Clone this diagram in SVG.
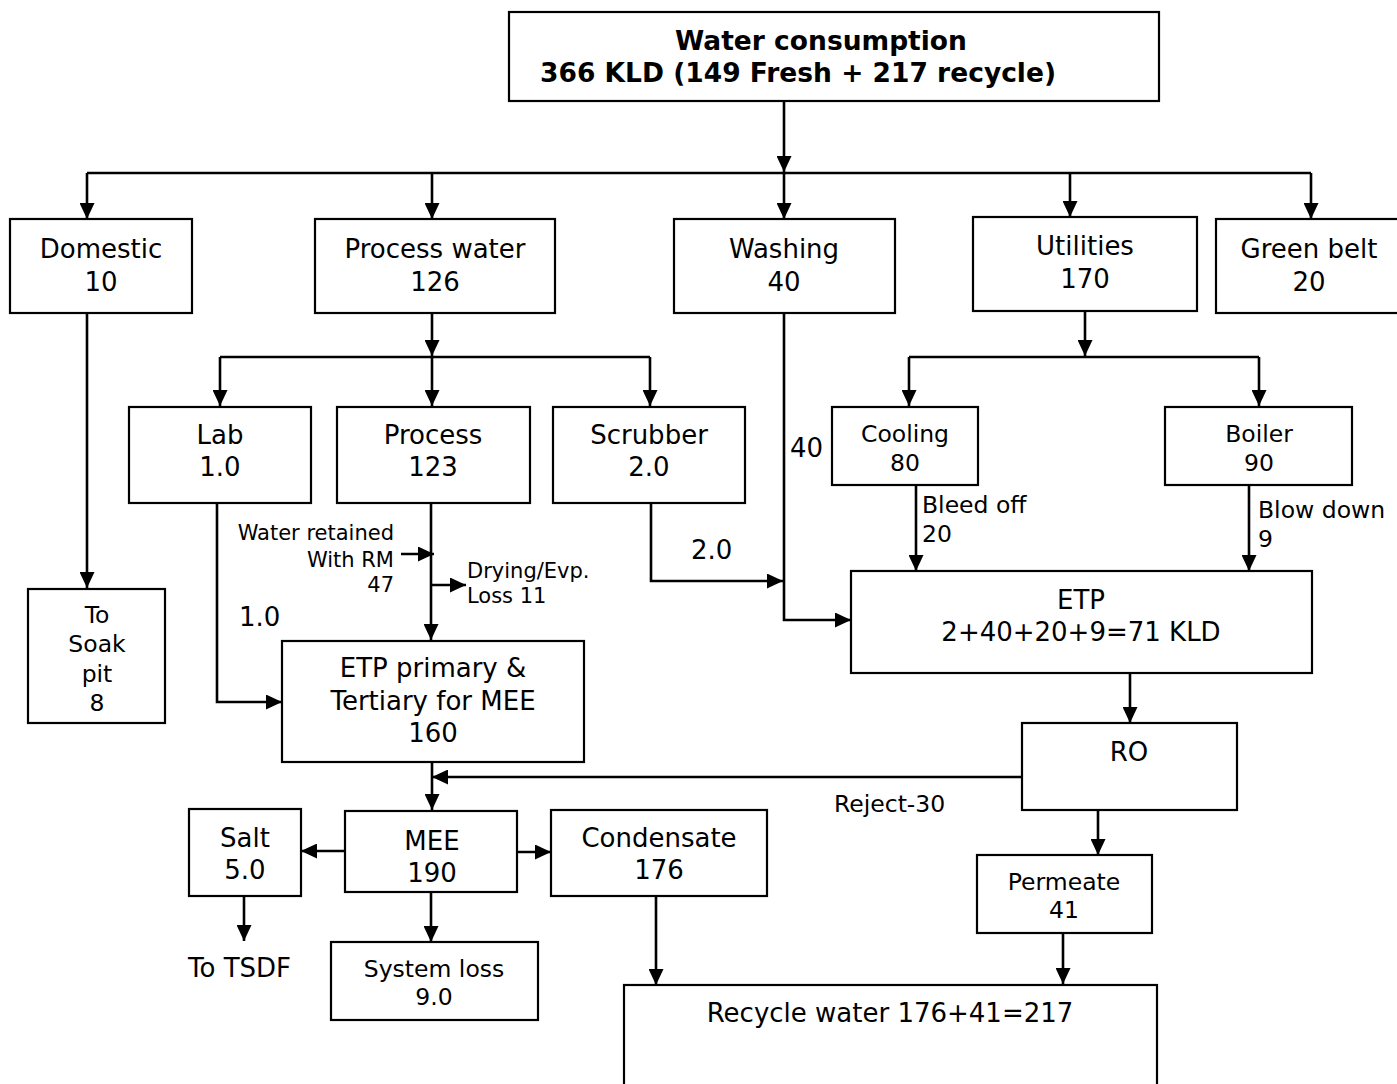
<svg xmlns="http://www.w3.org/2000/svg" width="1397" height="1084" viewBox="0 0 1397 1084">
  <style>
    .box { fill: #fff; stroke: #000; stroke-width: 2.2; }
    .t { font-family: "DejaVu Sans", Verdana, sans-serif; font-size: 26px; fill: #000; text-anchor: middle; }
    .s { font-size: 23.5px; }
    .xs { font-size: 21px; }
    .b { font-weight: bold; font-size: 26.5px; text-anchor: start; }
    .l { text-anchor: start; }
    .r { text-anchor: end; }
    .c { fill: none; stroke: #000; stroke-width: 2.6; }
    .a { marker-end: url(#arr); }
  </style>
  <defs>
    <marker id="arr" viewBox="0 0 16 15" refX="16" refY="7.5" markerWidth="16" markerHeight="15" markerUnits="userSpaceOnUse" orient="auto">
      <path d="M0,0 L16,7.5 L0,15 z" fill="#000"/>
    </marker>
  </defs>
  <rect width="1397" height="1084" fill="#fff"/>

  <!-- flow lines -->
  <g id="connectors">
    <path class="c a" d="M784,101 V172"/>
    <path class="c" d="M87,173 H1311"/>
    <path class="c a" d="M87,173 V219"/>
    <path class="c a" d="M432,173 V219"/>
    <path class="c a" d="M784,173 V219"/>
    <path class="c a" d="M1070,173 V217"/>
    <path class="c a" d="M1311,173 V219"/>

    <path class="c a" d="M87,313 V588"/>

    <path class="c a" d="M432,313 V356"/>
    <path class="c" d="M220,357 H650"/>
    <path class="c a" d="M220,357 V406"/>
    <path class="c a" d="M432,357 V406"/>
    <path class="c a" d="M650,357 V406"/>

    <path class="c a" d="M217,503 V702 H282"/>
    <path class="c a" d="M431,503 V640"/>
    <path class="c a" d="M401,554 H434"/>
    <path class="c a" d="M431,585 H466"/>
    <path class="c a" d="M651,503 V581 H783"/>
    <path class="c a" d="M784,313 V620 H851"/>

    <path class="c a" d="M1085,311 V356"/>
    <path class="c" d="M909,357 H1259"/>
    <path class="c a" d="M909,357 V406"/>
    <path class="c a" d="M1259,357 V406"/>
    <path class="c a" d="M916,485 V571"/>
    <path class="c a" d="M1249,485 V571"/>

    <path class="c a" d="M1130,673 V723"/>
    <path class="c a" d="M1022,777 H432"/>
    <path class="c a" d="M1098,810 V855"/>
    <path class="c a" d="M1063,933 V984"/>

    <path class="c a" d="M432,762 V810"/>
    <path class="c a" d="M345,851 H301"/>
    <path class="c a" d="M517,852 H551"/>
    <path class="c a" d="M244,896 V941"/>
    <path class="c a" d="M431,892 V942"/>
    <path class="c a" d="M656,897 V985"/>
  </g>

  <!-- flow labels -->
  <g id="flow-labels">
    <text class="t xs r" x="394" y="540">Water retained</text>
    <text class="t xs r" x="394" y="567">With RM</text>
    <text class="t xs r" x="394" y="592">47</text>
    <text class="t xs l" x="467" y="578">Drying/Evp.</text>
    <text class="t xs l" x="467" y="603">Loss 11</text>
    <text class="t l" x="239" y="626">1.0</text>
    <text class="t l" x="691" y="559">2.0</text>
    <text class="t l" x="790" y="457">40</text>
    <text class="t s l" x="922" y="513">Bleed off</text>
    <text class="t s l" x="922" y="542">20</text>
    <text class="t s l" x="1258" y="518">Blow down</text>
    <text class="t s l" x="1258" y="547">9</text>
    <text class="t s l" x="834" y="812">Reject-30</text>
    <text class="t l" x="188" y="977">To TSDF</text>
  </g>

  <g id="water-consumption">
    <rect class="box" x="509" y="12" width="650" height="89"/>
    <text class="t b" x="675" y="50">Water consumption</text>
    <text class="t b" x="540" y="82">366 KLD (149 Fresh + 217 recycle)</text>
  </g>

  <g id="domestic">
    <rect class="box" x="10" y="219" width="182" height="94"/>
    <text class="t" x="101" y="258">Domestic</text>
    <text class="t" x="101" y="291">10</text>
  </g>

  <g id="process-water">
    <rect class="box" x="315" y="219" width="240" height="94"/>
    <text class="t" x="435" y="258">Process water</text>
    <text class="t" x="435" y="291">126</text>
  </g>

  <g id="washing">
    <rect class="box" x="674" y="219" width="221" height="94"/>
    <text class="t" x="784" y="258">Washing</text>
    <text class="t" x="784" y="291">40</text>
  </g>

  <g id="utilities">
    <rect class="box" x="973" y="217" width="224" height="94"/>
    <text class="t" x="1085" y="255">Utilities</text>
    <text class="t" x="1085" y="288">170</text>
  </g>

  <g id="green-belt">
    <rect class="box" x="1216" y="219" width="190" height="94"/>
    <text class="t" x="1309" y="258">Green belt</text>
    <text class="t" x="1309" y="291">20</text>
  </g>

  <g id="soak-pit">
    <rect class="box" x="28" y="589" width="137" height="134"/>
    <text class="t s" x="97" y="623">To</text>
    <text class="t s" x="97" y="652">Soak</text>
    <text class="t s" x="97" y="682">pit</text>
    <text class="t s" x="97" y="711">8</text>
  </g>

  <g id="lab">
    <rect class="box" x="129" y="407" width="182" height="96"/>
    <text class="t" x="220" y="444">Lab</text>
    <text class="t" x="220" y="476">1.0</text>
  </g>

  <g id="process">
    <rect class="box" x="337" y="407" width="193" height="96"/>
    <text class="t" x="433" y="444">Process</text>
    <text class="t" x="433" y="476">123</text>
  </g>

  <g id="scrubber">
    <rect class="box" x="553" y="407" width="192" height="96"/>
    <text class="t" x="649" y="444">Scrubber</text>
    <text class="t" x="649" y="476">2.0</text>
  </g>

  <g id="cooling">
    <rect class="box" x="832" y="407" width="146" height="78"/>
    <text class="t s" x="905" y="442">Cooling</text>
    <text class="t s" x="905" y="471">80</text>
  </g>

  <g id="boiler">
    <rect class="box" x="1165" y="407" width="187" height="78"/>
    <text class="t s" x="1259" y="442">Boiler</text>
    <text class="t s" x="1259" y="471">90</text>
  </g>

  <g id="etp">
    <rect class="box" x="851" y="571" width="461" height="102"/>
    <text class="t" x="1081" y="609">ETP</text>
    <text class="t" x="1081" y="641">2+40+20+9=71 KLD</text>
  </g>

  <g id="etp-primary">
    <rect class="box" x="282" y="641" width="302" height="121"/>
    <text class="t" x="433" y="677">ETP primary &amp;</text>
    <text class="t" x="433" y="710">Tertiary for MEE</text>
    <text class="t" x="433" y="742">160</text>
  </g>

  <g id="ro">
    <rect class="box" x="1022" y="723" width="215" height="87"/>
    <text class="t" x="1129" y="761">RO</text>
  </g>

  <g id="salt">
    <rect class="box" x="189" y="809" width="112" height="87"/>
    <text class="t" x="245" y="847">Salt</text>
    <text class="t" x="245" y="879">5.0</text>
  </g>

  <g id="mee">
    <rect class="box" x="345" y="811" width="172" height="81"/>
    <text class="t" x="432" y="850">MEE</text>
    <text class="t" x="432" y="882">190</text>
  </g>

  <g id="condensate">
    <rect class="box" x="551" y="810" width="216" height="86"/>
    <text class="t" x="659" y="847">Condensate</text>
    <text class="t" x="659" y="879">176</text>
  </g>

  <g id="permeate">
    <rect class="box" x="977" y="855" width="175" height="78"/>
    <text class="t s" x="1064" y="890">Permeate</text>
    <text class="t s" x="1064" y="918">41</text>
  </g>

  <g id="system-loss">
    <rect class="box" x="331" y="942" width="207" height="78"/>
    <text class="t s" x="434" y="977">System loss</text>
    <text class="t s" x="434" y="1005">9.0</text>
  </g>

  <g id="recycle-water">
    <rect class="box" x="624" y="985" width="533" height="110"/>
    <text class="t" x="890" y="1022">Recycle water 176+41=217</text>
  </g>
</svg>
